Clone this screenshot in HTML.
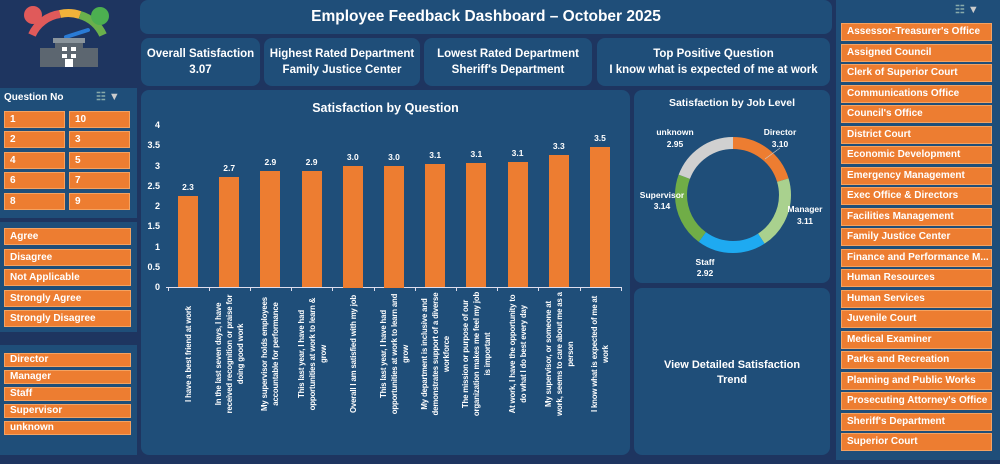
<!DOCTYPE html>
<html><head><meta charset="utf-8"><style>
*{box-sizing:border-box;margin:0;padding:0}
body{width:1000px;height:464px;background:#1e3560;font-family:"Liberation Sans",sans-serif;color:#fff;position:relative;overflow:hidden;font-weight:bold}
.abs{position:absolute}
.pan{position:absolute;background:#1f4e79;border-radius:8px}
.btn{position:absolute;background:#ed7d31;border:1px solid #f4a261;color:#fff;font-size:10px;padding-left:5px;line-height:15px;white-space:nowrap;overflow:hidden}
.kpi{position:absolute;top:38px;height:48px;background:#1f4e79;border-radius:8px;text-align:center;font-size:11.5px;line-height:16px;padding-top:8px}
.yl{position:absolute;left:144px;width:16px;text-align:right;font-size:9px}
.bar{position:absolute;width:20px;background:#ed7d31}
.bv{position:absolute;width:40px;text-align:center;font-size:8.5px}
.xl{position:absolute;width:126px;height:40px;font-size:7.8px;letter-spacing:-0.15px;line-height:11px;text-align:right;transform-origin:0 0;display:flex;align-items:center;justify-content:center;flex-direction:column}
.tk{position:absolute;top:287px;width:1px;height:4px;background:#dde}
</style></head><body>
<div class="abs" style="left:0;top:88px;width:137px;height:130px;background:#1f4e79"></div>
<div class="abs" style="left:0;top:222px;width:137px;height:110px;background:#1f4e79"></div>
<div class="abs" style="left:0;top:345px;width:137px;height:110px;background:#1f4e79"></div>
<svg class="abs" style="left:20px;top:5px" width="100" height="62">
<path d="M12 30 A36 36 0 0 1 40 9" stroke="#e05a5a" stroke-width="8" fill="none"/>
<path d="M40 9 A36 36 0 0 1 60 10" stroke="#f0b23a" stroke-width="8" fill="none"/>
<path d="M60 10 A36 36 0 0 1 83 30" stroke="#6ab04c" stroke-width="8" fill="none"/>
<circle cx="13" cy="10" r="9" fill="#e05a5a"/><circle cx="80" cy="11" r="9" fill="#4caf50"/>
<line x1="46" y1="32" x2="68" y2="25" stroke="#2a7bd5" stroke-width="4" stroke-linecap="round"/>
<rect x="35" y="33" width="28" height="30" fill="#5c6670"/><rect x="20" y="43" width="58" height="20" fill="#5c6670"/>
<rect x="33" y="33" width="32" height="5" fill="#8a949c"/>
<rect x="42" y="42" width="5" height="4" fill="#fff"/><rect x="51" y="42" width="5" height="4" fill="#fff"/>
<rect x="42" y="49" width="5" height="4" fill="#fff"/><rect x="51" y="49" width="5" height="4" fill="#fff"/>
<rect x="45" y="54" width="8" height="8" fill="#fff"/>
</svg>
<div class="abs" style="left:4px;top:92px;font-size:10px">Question No</div>
<div class="abs" style="left:96px;top:90px;font-size:11px;color:#8aa">☷ <span style="color:#ccc">▼</span></div>
<div class="btn" style="left:4px;top:111px;width:61px;height:17px">1</div><div class="btn" style="left:69px;top:111px;width:61px;height:17px">10</div>
<div class="btn" style="left:4px;top:131px;width:61px;height:17px">2</div><div class="btn" style="left:69px;top:131px;width:61px;height:17px">3</div>
<div class="btn" style="left:4px;top:152px;width:61px;height:17px">4</div><div class="btn" style="left:69px;top:152px;width:61px;height:17px">5</div>
<div class="btn" style="left:4px;top:172px;width:61px;height:17px">6</div><div class="btn" style="left:69px;top:172px;width:61px;height:17px">7</div>
<div class="btn" style="left:4px;top:193px;width:61px;height:17px">8</div><div class="btn" style="left:69px;top:193px;width:61px;height:17px">9</div>
<div class="btn" style="left:4px;top:228px;width:127px;height:17px">Agree</div>
<div class="btn" style="left:4px;top:249px;width:127px;height:17px">Disagree</div>
<div class="btn" style="left:4px;top:269px;width:127px;height:17px">Not Applicable</div>
<div class="btn" style="left:4px;top:290px;width:127px;height:17px">Strongly Agree</div>
<div class="btn" style="left:4px;top:310px;width:127px;height:17px">Strongly Disagree</div>
<div class="btn" style="left:4px;top:353px;width:127px;height:14px;line-height:12px">Director</div>
<div class="btn" style="left:4px;top:370px;width:127px;height:14px;line-height:12px">Manager</div>
<div class="btn" style="left:4px;top:387px;width:127px;height:14px;line-height:12px">Staff</div>
<div class="btn" style="left:4px;top:404px;width:127px;height:14px;line-height:12px">Supervisor</div>
<div class="btn" style="left:4px;top:421px;width:127px;height:14px;line-height:12px">unknown</div>
<div class="pan" style="left:140px;top:0;width:692px;height:34px;text-align:center;font-size:15.5px;line-height:34px">Employee Feedback Dashboard – October 2025</div>
<div class="kpi" style="left:141px;width:119px">Overall Satisfaction<br>3.07</div>
<div class="kpi" style="left:264px;width:156px">Highest Rated Department<br>Family Justice Center</div>
<div class="kpi" style="left:424px;width:168px">Lowest Rated Department<br>Sheriff's Department</div>
<div class="kpi" style="left:597px;width:233px">Top Positive Question<br>I know what is expected of me at work</div>
<div class="pan" style="left:141px;top:90px;width:489px;height:365px"></div>
<div class="abs" style="left:141px;top:101px;width:489px;text-align:center;font-size:12.5px">Satisfaction by Question</div>
<div class="yl" style="top:120px">4</div><div class="yl" style="top:140px">3.5</div><div class="yl" style="top:161px">3</div><div class="yl" style="top:181px">2.5</div><div class="yl" style="top:201px">2</div><div class="yl" style="top:221px">1.5</div><div class="yl" style="top:242px">1</div><div class="yl" style="top:262px">0.5</div><div class="yl" style="top:282px">0</div>
<div class="abs" style="left:166px;top:287px;width:455px;height:1px;background:#dde"></div>
<div id="bars"></div>
<div class="pan" style="left:634px;top:90px;width:196px;height:193px"></div>
<div class="abs" style="left:634px;top:97px;width:196px;text-align:center;font-size:10.5px">Satisfaction by Job Level</div>
<svg class="abs" style="left:634px;top:90px" width="196" height="193">
<g transform="rotate(-90 99 105)" fill="none" stroke-width="12">
<circle cx="99" cy="105" r="52" stroke="#ed7d31" stroke-dasharray="66.5 400" stroke-dashoffset="0"/>
<circle cx="99" cy="105" r="52" stroke="#a9d18e" stroke-dasharray="66.8 400" stroke-dashoffset="-66.5"/>
<circle cx="99" cy="105" r="52" stroke="#1eaaf1" stroke-dasharray="62.7 400" stroke-dashoffset="-133.3"/>
<circle cx="99" cy="105" r="52" stroke="#70ad47" stroke-dasharray="67.4 400" stroke-dashoffset="-196"/>
<circle cx="99" cy="105" r="52" stroke="#d0d0d0" stroke-dasharray="63.4 400" stroke-dashoffset="-263.4"/>
</g>
<line x1="131" y1="69" x2="146" y2="58" stroke="#ccc" stroke-width="0.6"/>
<g font-size="8.5" fill="#fff" text-anchor="middle" font-weight="bold">
<text x="146" y="45">Director</text><text x="146" y="57">3.10</text>
<text x="171" y="122">Manager</text><text x="171" y="134">3.11</text>
<text x="71" y="175">Staff</text><text x="71" y="186">2.92</text>
<text x="28" y="108">Supervisor</text><text x="28" y="119">3.14</text>
<text x="41" y="45">unknown</text><text x="41" y="57">2.95</text>
</g></svg>
<div class="pan" style="left:634px;top:288px;width:196px;height:167px;text-align:center;font-size:11px;line-height:15px;padding-top:70px">View Detailed Satisfaction<br>Trend</div>
<div class="abs" style="left:836px;top:0;width:164px;height:460px;background:#1f4e79"></div>
<div class="abs" style="left:955px;top:3px;font-size:11px;color:#8aa">☷ <span style="color:#ccc">▼</span></div>
<div id="depts"></div>
<script>
var v=[2.27,2.72,2.87,2.87,3.0,3.0,3.05,3.08,3.1,3.28,3.48],lab=["2.3","2.7","2.9","2.9","3.0","3.0","3.1","3.1","3.1","3.3","3.5"];
var q=["I have a best friend at work","In the last seven days, I have received recognition or praise for doing good work","My supervisor holds employees accountable for performance","This last year, I have had opportunities at work to learn &amp; grow","Overall I am satisfied with my job","This last year, I have had opportunities at work to learn and grow","My department is inclusive and demonstrates support of a diverse workforce","The mission or purpose of our organization makes me feel my job is important","At work, I have the opportunity to do what I do best every day","My supervisor, or someone at work, seems to care about me as a person","I know what is expected of me at work"];
var h="";for(var i=0;i<11;i++){var x=178+i*41.2,t=287.5-v[i]*40.5;
h+='<div class="bar" style="left:'+x+'px;top:'+t+'px;height:'+(287.5-t)+'px"></div>';
h+='<div class="bv" style="left:'+(x-10)+'px;top:'+(t-14)+'px">'+lab[i]+'</div>';
h+='<div class="tk" style="left:'+(x-10.5)+'px"></div>';
h+='<div class="xl" style="left:'+(x-10)+'px;top:417px;transform:rotate(-90deg)"><div style="width:126px;text-align:center">'+q[i]+'</div></div>';}
h+='<div class="tk" style="left:'+(178+11*41.2-10.5)+'px"></div>';
document.getElementById("bars").innerHTML=h;
var d=["Assessor-Treasurer's Office","Assigned Council","Clerk of Superior Court","Communications Office","Council's Office","District Court","Economic Development","Emergency Management","Exec Office &amp; Directors","Facilities Management","Family Justice Center","Finance and Performance M...","Human Resources","Human Services","Juvenile Court","Medical Examiner","Parks and Recreation","Planning and Public Works","Prosecuting Attorney's Office","Sheriff's Department","Superior Court"];
h="";for(i=0;i<21;i++)h+='<div class="btn" style="left:841px;top:'+(23+i*20.5)+'px;width:151px;height:18px;line-height:16px">'+d[i]+'</div>';
document.getElementById("depts").innerHTML=h;
</script>
</body></html>
